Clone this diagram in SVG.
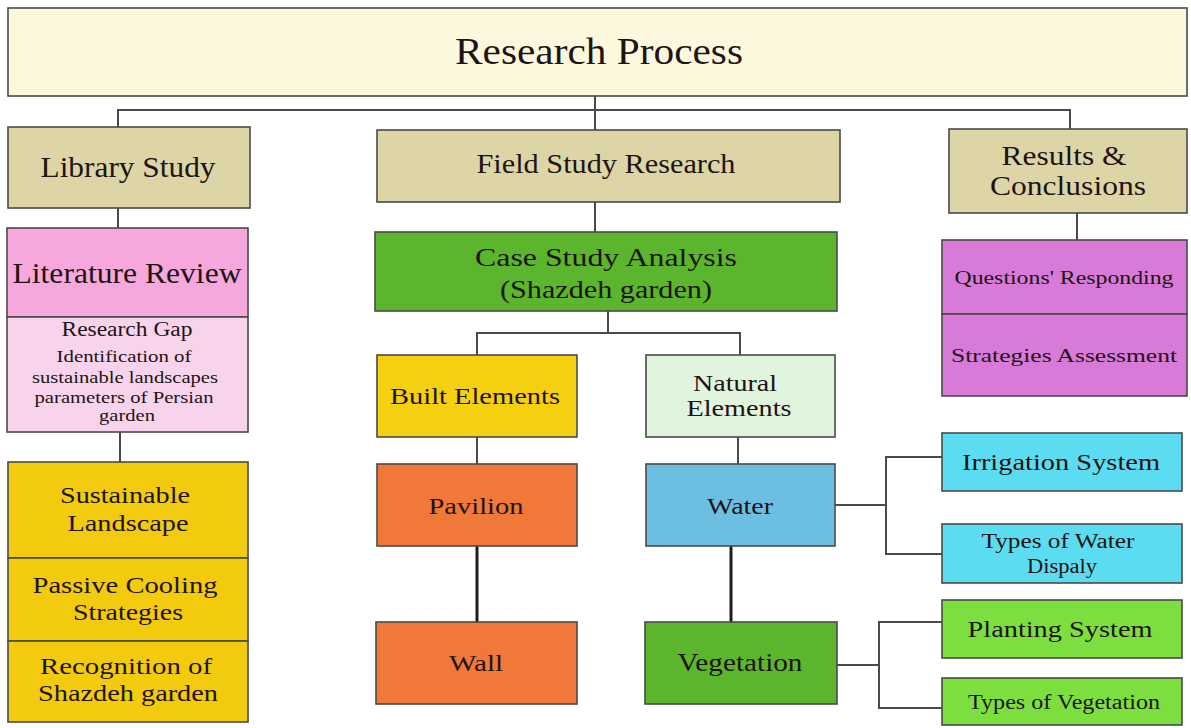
<svg xmlns="http://www.w3.org/2000/svg" width="1191" height="728" viewBox="0 0 1191 728">
<style>
.b{stroke:#4a4a4a;stroke-width:1.6}
.t{font-family:"Liberation Serif","Times New Roman",serif;fill:#1e1414;text-anchor:middle}
.c{fill:none;stroke:#4a4a4a;stroke-width:2}
.k{fill:none;stroke:#1e1e1e;stroke-width:3}
</style>
<rect width="1191" height="728" fill="#ffffff"/>
<g id="connectors">
<path class="c" d="M595 96 V130"/>
<path class="c" d="M118 127 V110 H1070 V130"/>
<path class="c" d="M118 208 V228"/>
<path class="c" d="M120 432 V462"/>
<path class="c" d="M595 202 V232"/>
<path class="c" d="M608 311 V333"/>
<path class="c" d="M477 355 V333 H740 V355"/>
<path class="c" d="M477 437 V464"/>
<path class="c" d="M738 437 V464"/>
<path class="k" d="M477 546 V622"/>
<path class="k" d="M731 546 V622"/>
<path class="c" d="M1077 213 V240"/>
<path class="c" d="M835 505 H886"/>
<path class="c" d="M942 457 H886 V554 H942"/>
<path class="c" d="M837 665 H879"/>
<path class="c" d="M942 622 H879 V708 H942"/>
</g>
<g id="research-process"><rect class="b" x="8" y="8" width="1179" height="88" fill="#fbf8dd"/><text class="t" x="599" y="64" font-size="38" textLength="288" lengthAdjust="spacingAndGlyphs">Research Process</text></g>
<g id="library-study"><rect class="b" x="8" y="127" width="242" height="81" fill="#ddd5a5"/><text class="t" x="128" y="177" font-size="29" textLength="175" lengthAdjust="spacingAndGlyphs">Library Study</text></g>
<g id="field-study"><rect class="b" x="377" y="130" width="463" height="72" fill="#ddd5a5"/><text class="t" x="606" y="173" font-size="27" textLength="259" lengthAdjust="spacingAndGlyphs">Field Study Research</text></g>
<g id="results"><rect class="b" x="949" y="129" width="238" height="84" fill="#ddd5a5"/><text class="t" x="1064" y="165" font-size="28" textLength="125" lengthAdjust="spacingAndGlyphs">Results &amp;</text><text class="t" x="1068" y="195" font-size="28" textLength="156" lengthAdjust="spacingAndGlyphs">Conclusions</text></g>
<g id="literature-review"><rect class="b" x="7" y="228" width="241" height="89" fill="#f6a8dc"/><text class="t" x="127" y="283" font-size="29" textLength="229" lengthAdjust="spacingAndGlyphs">Literature Review</text></g>
<g id="research-gap"><rect class="b" x="7" y="317" width="241" height="115" fill="#f7d4ec"/><text class="t" x="127" y="336" font-size="20" textLength="131" lengthAdjust="spacingAndGlyphs">Research Gap</text><text class="t" x="124" y="362" font-size="17.5" textLength="135" lengthAdjust="spacingAndGlyphs">Identification of</text><text class="t" x="125" y="383" font-size="17.5" textLength="186" lengthAdjust="spacingAndGlyphs">sustainable landscapes</text><text class="t" x="124" y="403" font-size="17.5" textLength="179" lengthAdjust="spacingAndGlyphs">parameters of Persian</text><text class="t" x="127" y="421" font-size="17.5" textLength="56" lengthAdjust="spacingAndGlyphs">garden</text></g>
<g id="sustainable-landscape"><rect class="b" x="8" y="462" width="240" height="96" fill="#f2cb0e"/><text class="t" x="125" y="503" font-size="24" textLength="130" lengthAdjust="spacingAndGlyphs">Sustainable</text><text class="t" x="128" y="531" font-size="24" textLength="121" lengthAdjust="spacingAndGlyphs">Landscape</text></g>
<g id="passive-cooling"><rect class="b" x="8" y="558" width="240" height="83" fill="#f2cb0e"/><text class="t" x="125" y="593" font-size="24" textLength="185" lengthAdjust="spacingAndGlyphs">Passive Cooling</text><text class="t" x="128" y="620" font-size="24" textLength="110" lengthAdjust="spacingAndGlyphs">Strategies</text></g>
<g id="recognition"><rect class="b" x="8" y="641" width="240" height="81" fill="#f2cb0e"/><text class="t" x="126" y="674" font-size="24" textLength="172" lengthAdjust="spacingAndGlyphs">Recognition of</text><text class="t" x="128" y="701" font-size="24" textLength="180" lengthAdjust="spacingAndGlyphs">Shazdeh garden</text></g>
<g id="case-study"><rect class="b" x="375" y="232" width="462" height="79" fill="#5bb52d"/><text class="t" x="606" y="266" font-size="26" textLength="262" lengthAdjust="spacingAndGlyphs">Case Study Analysis</text><text class="t" x="606" y="298" font-size="26" textLength="212" lengthAdjust="spacingAndGlyphs">(Shazdeh garden)</text></g>
<g id="built-elements"><rect class="b" x="377" y="355" width="200" height="82" fill="#f4d011"/><text class="t" x="475" y="404" font-size="23" textLength="170" lengthAdjust="spacingAndGlyphs">Built Elements</text></g>
<g id="natural-elements"><rect class="b" x="646" y="355" width="189" height="82" fill="#e1f4dd"/><text class="t" x="735" y="391" font-size="23" textLength="84" lengthAdjust="spacingAndGlyphs">Natural</text><text class="t" x="739" y="416" font-size="23" textLength="105" lengthAdjust="spacingAndGlyphs">Elements</text></g>
<g id="pavilion"><rect class="b" x="377" y="464" width="200" height="82" fill="#f07838"/><text class="t" x="476" y="514" font-size="24" textLength="95" lengthAdjust="spacingAndGlyphs">Pavilion</text></g>
<g id="wall"><rect class="b" x="376" y="622" width="201" height="82" fill="#f07838"/><text class="t" x="476" y="671" font-size="24" textLength="54" lengthAdjust="spacingAndGlyphs">Wall</text></g>
<g id="water"><rect class="b" x="646" y="464" width="189" height="82" fill="#6cbfe0"/><text class="t" x="740" y="514" font-size="24" textLength="66" lengthAdjust="spacingAndGlyphs">Water</text></g>
<g id="vegetation"><rect class="b" x="645" y="622" width="192" height="82" fill="#5bb52d"/><text class="t" x="740" y="671" font-size="25" textLength="125" lengthAdjust="spacingAndGlyphs">Vegetation</text></g>
<g id="questions"><rect class="b" x="942" y="240" width="245" height="74" fill="#d77ad8"/><text class="t" x="1064" y="284" font-size="19" textLength="219" lengthAdjust="spacingAndGlyphs">Questions' Responding</text></g>
<g id="strategies"><rect class="b" x="942" y="314" width="245" height="82" fill="#d77ad8"/><text class="t" x="1064" y="362" font-size="19" textLength="226" lengthAdjust="spacingAndGlyphs">Strategies Assessment</text></g>
<g id="irrigation"><rect class="b" x="942" y="433" width="240" height="58" fill="#5cdcf0"/><text class="t" x="1061" y="470" font-size="23" textLength="198" lengthAdjust="spacingAndGlyphs">Irrigation System</text></g>
<g id="water-display"><rect class="b" x="942" y="524" width="240" height="59" fill="#5cdcf0"/><text class="t" x="1058" y="548" font-size="20" textLength="153" lengthAdjust="spacingAndGlyphs">Types of Water</text><text class="t" x="1062" y="573" font-size="20" textLength="70" lengthAdjust="spacingAndGlyphs">Dispaly</text></g>
<g id="planting"><rect class="b" x="942" y="600" width="240" height="58" fill="#7ddf3f"/><text class="t" x="1060" y="637" font-size="23" textLength="185" lengthAdjust="spacingAndGlyphs">Planting System</text></g>
<g id="types-vegetation"><rect class="b" x="942" y="678" width="240" height="47" fill="#7ddf3f"/><text class="t" x="1064" y="709" font-size="20" textLength="192" lengthAdjust="spacingAndGlyphs">Types of Vegetation</text></g>
</svg>
